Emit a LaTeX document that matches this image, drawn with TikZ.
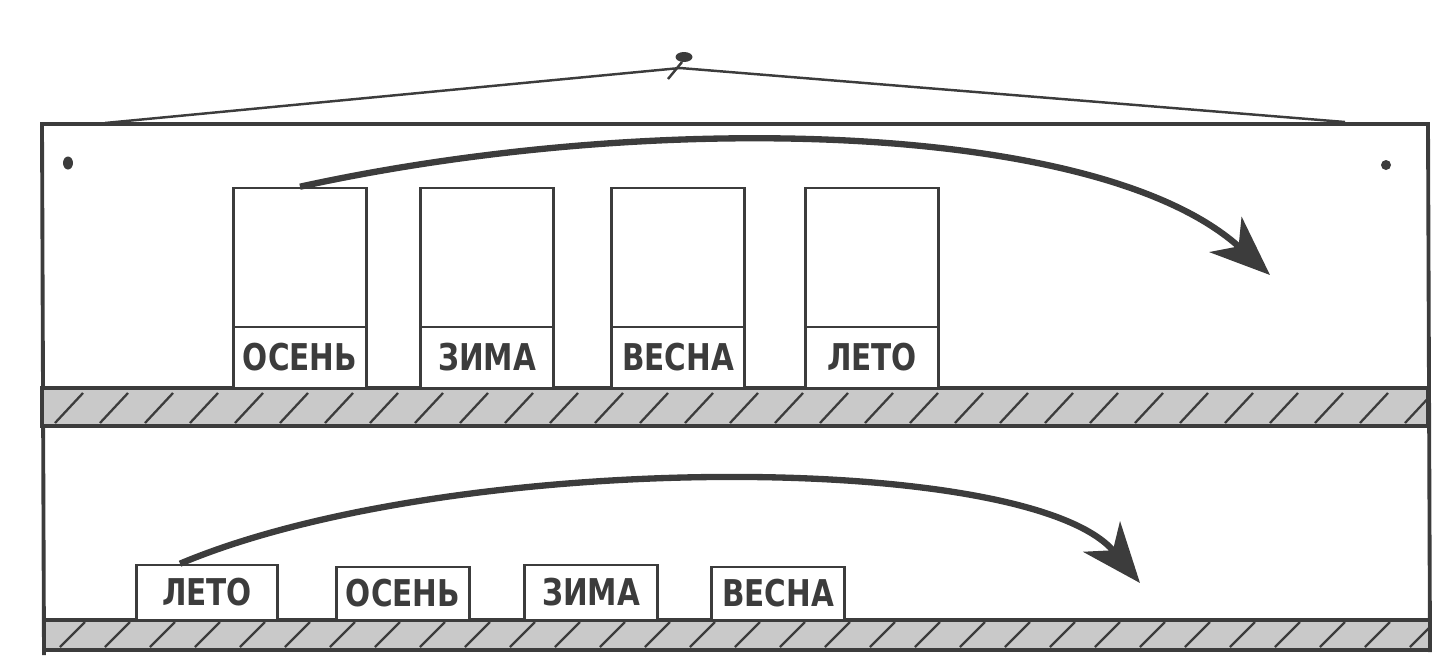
\documentclass[tikz,border=0pt]{standalone}
\usepackage{fontspec}
\newfontfamily\handfont[FakeStretch=0.8]{DejaVu Sans}
\usetikzlibrary{arrows.meta, calc}

\definecolor{pencil}{HTML}{3C3C3C}
\definecolor{shelfgray}{HTML}{C9C9C9}

\tikzset{
  pocket/.style={draw=pencil, line width=1.5pt, minimum width=2.66cm, minimum height=4cm, inner sep=0pt},
  seasonbox/.style={draw=pencil, line width=1.5pt, fill=white, minimum width=2.66cm, minimum height=1.22cm, inner sep=0pt,
    font=\handfont\bfseries\fontsize{21}{21}\selectfont, text=pencil},
  movearrow/.style={draw=pencil, line width=3.6pt, -{Stealth[length=12mm, width=9.5mm, inset=3.5mm]}},
  hatch/.style={pencil, line width=1.3pt},
}

\begin{document}
\begin{tikzpicture}[x=0.02cm, y=-0.02cm]
    \useasboundingbox (0,0) rectangle (1455,664);
    % board, string, nail
    \draw [pencil, line width=2.2pt] (44,655) -- (42,124) -- (1428,124) -- (1430,652);
    \draw [pencil, line width=1.4pt] (105,123) -- (680,68) -- (1345,122);
    \fill [pencil] (684,57) ellipse [x radius=0.17cm, y radius=0.1cm];
    \draw [pencil, line width=1.4pt] (682,62) -- (668,79);
    \fill [pencil] (68,163) ellipse [x radius=0.1cm, y radius=0.13cm];
    \fill [pencil] (1386,165) circle [radius=0.1cm];
    % shelves
    \begin{scope}
      \clip (42,388) rectangle (1428,426);
      \fill [shelfgray] (42,388) rectangle (1428,426);
      \foreach \x in {55,100,...,1420} \draw [hatch] (\x,423) -- ++(28,-30);
    \end{scope}
    \draw [pencil, line width=2pt] (42,388) rectangle (1428,426);
    \begin{scope}
      \clip (44,620) rectangle (1430,650);
      \fill [shelfgray] (44,620) rectangle (1430,650);
      \foreach \x in {60,105,...,1420} \draw [hatch] (\x,647) -- ++(25,-25);
    \end{scope}
    \draw [pencil, line width=2pt] (44,620) rectangle (1430,650);
    % upper row
    \node [pocket] (p1) at (300,288) {};
    \node [pocket] (p2) at (487,288) {};
    \node [pocket] (p3) at (678,288) {};
    \node [pocket] (p4) at (872,288) {};
    \node [seasonbox] (s1) at (300,357.5) {ОСЕНЬ};
    \node [seasonbox] (s2) at (487,357.5) {ЗИМА};
    \node [seasonbox] (s3) at (678,357.5) {ВЕСНА};
    \node [seasonbox] (s4) at (872,357.5) {ЛЕТО};
    \coordinate (uptip) at (1270,275);
    \draw [movearrow] (p1.north) .. controls (650,110) and (1100,120) .. (uptip);
    % lower row
    \node [seasonbox, minimum width=2.82cm, minimum height=1.1cm] (q1) at (207,592.5) {ЛЕТО};
    \node [seasonbox, minimum height=1.06cm] (q2) at (403,593.5) {ОСЕНЬ};
    \node [seasonbox, minimum height=1.1cm] (q3) at (591,592.5) {ЗИМА};
    \node [seasonbox, minimum height=1.06cm] (q4) at (778,593.5) {ВЕСНА};
    \coordinate (lowtip) at (1140,583);
    \draw [movearrow] ([xshift=-0.54cm]q1.north) .. controls (450,450) and (1030,450) .. (lowtip);
\end{tikzpicture}
\end{document}
